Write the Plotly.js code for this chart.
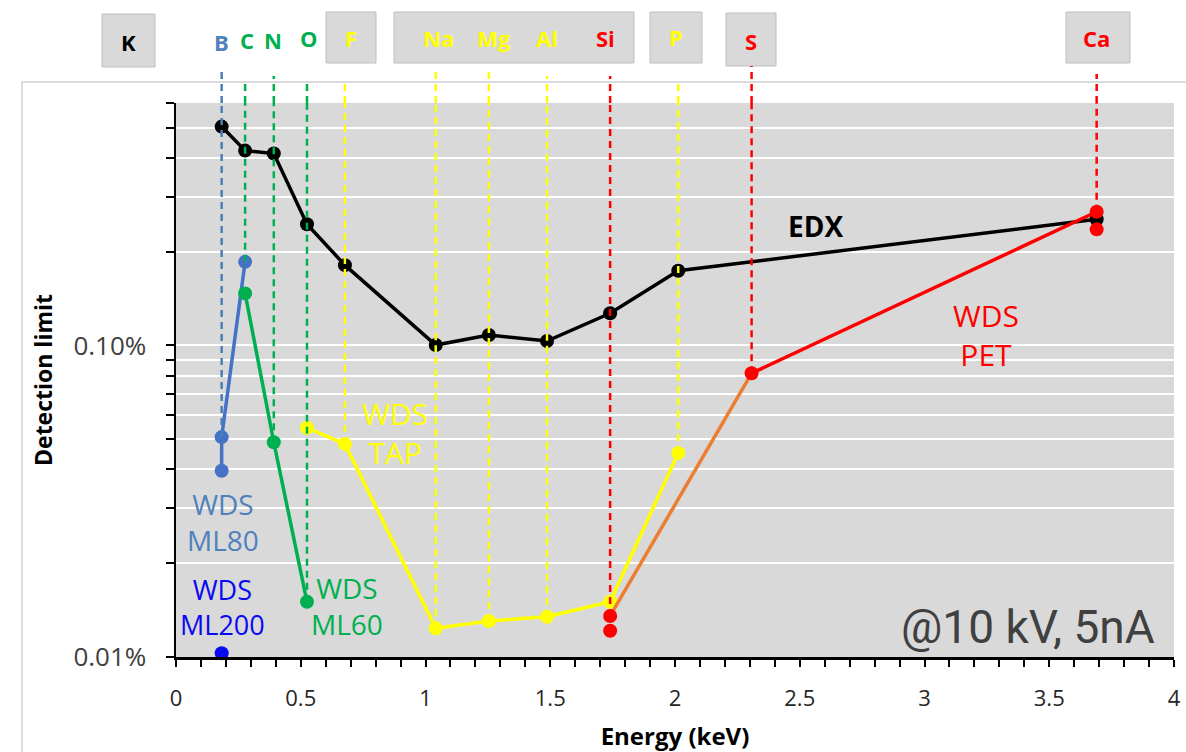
<!DOCTYPE html>
<html>
<head>
<meta charset="utf-8">
<script src="https://cdn.plot.ly/plotly-3.0.1.min.js"></script>
<style>
html,body{margin:0;padding:0;background:#ffffff;}
#chart{width:1186px;height:752px;}
</style>
</head>
<body>
<div id="chart"></div>
<script>
// ---------------- DATA ----------------
// EDX detection limits (%) vs X-ray line energy (keV)
const edxEnergy = [0.183, 0.277, 0.392, 0.525, 0.677, 1.041, 1.254, 1.487, 1.740, 2.013, 3.690];
const edxLimit  = [0.504, 0.422, 0.413, 0.245, 0.181, 0.1003, 0.108, 0.1033, 0.1268, 0.1737, 0.254];

// WDS ML80 crystal
const ml80Energy = [0.183, 0.183, 0.277];
const ml80Limit  = [0.0396, 0.0508, 0.1855];

// WDS ML200 crystal
const ml200Energy = [0.183];
const ml200Limit  = [0.01028];

// WDS ML60 crystal
const ml60Energy = [0.277, 0.392, 0.525];
const ml60Limit  = [0.1469, 0.0489, 0.01504];

// WDS TAP crystal
const tapEnergy = [0.525, 0.677, 1.041, 1.254, 1.487, 1.740, 2.013];
const tapLimit  = [0.0544, 0.0483, 0.01236, 0.01305, 0.01347, 0.01504, 0.0452];

// WDS PET crystal (Si low, Si, S, Ca, Ca low)
const petEnergy = [1.740, 1.740, 2.307, 3.690, 3.690];
const petLimit  = [0.01214, 0.01354, 0.0814, 0.2686, 0.2358];

// Element lines (labels on top, dashed guide lines)
const elemNames  = ['B', 'C', 'N', 'O', 'F', 'Na', 'Mg', 'Al', 'Si', 'P', 'S', 'Ca'];
const elemEnergy = [0.183, 0.277, 0.392, 0.525, 0.677, 1.041, 1.254, 1.487, 1.740, 2.013, 2.307, 3.690];
const elemLowest = [0.0508, 0.1855, 0.0489, 0.01504, 0.0483, 0.01236, 0.01305, 0.01347, 0.01354, 0.0452, 0.0814, 0.2686];
const elemColors = ['#4F81BD', '#00B050', '#00B050', '#00B050', '#FFFF00', '#FFFF00', '#FFFF00', '#FFFF00', '#FF0000', '#FFFF00', '#FF0000', '#FF0000'];

// Axis ticks
const xTickVals = [0, 0.5, 1, 1.5, 2, 2.5, 3, 3.5, 4];
const xTickText = ['0', '0.5', '1', '1.5', '2', '2.5', '3', '3.5', '4'];
const yTickVals = [0.01, 0.02, 0.03, 0.04, 0.05, 0.06, 0.07, 0.08, 0.09, 0.1, 0.2, 0.3, 0.4, 0.5, 0.6];
const yTickText = ['0.01%', '', '', '', '', '', '', '', '', '0.10%', '', '', '', '', ''];

// ---------------- LAYOUT GEOMETRY ----------------
const W = 1186, H = 752, L = 176, R = 12, T = 103, B = 95;
const PW = W - L - R, PH = H - T - B;
const fx = x => (x - L) / PW;
const fy = y => (H - B - y) / PH;
const yTop = 0.6;

const FONT = 'Open Sans, Noto Sans, sans-serif';

// ---------------- TRACES ----------------
function series(x, y, color, mode) {
  return {
    type: 'scatter', mode: mode, x: x, y: y,
    line: {color: color, width: 3.5},
    marker: {color: color, size: 14},
    hoverinfo: 'skip', showlegend: false, cliponaxis: false
  };
}
const traces = [
  series(edxEnergy, edxLimit, '#000000', 'lines+markers'),
  series(ml80Energy, ml80Limit, '#4472C4', 'lines+markers'),
  series(ml200Energy, ml200Limit, '#0A0AF0', 'markers'),
  series(ml60Energy, ml60Limit, '#00B050', 'lines+markers'),
  series(tapEnergy, tapLimit, '#FFFF00', 'lines+markers'),
  series(petEnergy.slice(1, 3), petLimit.slice(1, 3), '#ED7D31', 'lines'),
  series(petEnergy.slice(2, 4), petLimit.slice(2, 4), '#FF0000', 'lines'),
  series(petEnergy, petLimit, '#FF0000', 'markers')
];

// ---------------- SHAPES ----------------
const shapes = [];
// chart-area border (light gray)
shapes.push({type: 'rect', xref: 'paper', yref: 'paper', x0: fx(22), x1: fx(1230), y0: fy(82), y1: fy(800),
  line: {color: '#D0D0D0', width: 1.5}, fillcolor: 'rgba(0,0,0,0)', layer: 'below'});
// label boxes [x0, x1, y0, y1] in px
const boxes = [[102, 155, 14, 67], [326, 376, 12, 63], [394, 634, 12, 63], [650, 702, 12, 63], [726, 776, 13, 66], [1066, 1130, 12, 63]];
boxes.forEach(b => shapes.push({type: 'rect', xref: 'paper', yref: 'paper', x0: fx(b[0]), x1: fx(b[1]), y0: fy(b[3]), y1: fy(b[2]),
  line: {color: '#BFBFBF', width: 1}, fillcolor: '#D9D9D9', layer: 'above'}));
// dashed guide lines: top end in px
const dashTopPx = [69, 81, 76, 84, 84, 70, 68, 76, 76, 82, 66, 74];
elemEnergy.forEach((e, i) => {
  const ln = {color: elemColors[i] === '#4F81BD' ? '#4A7EBB' : elemColors[i], width: 2.5, dash: '7px,5px'};
  shapes.push({type: 'line', xref: 'x', yref: 'y', x0: e, x1: e, y0: elemLowest[i], y1: yTop, line: ln, layer: 'above'});
  shapes.push({type: 'line', xref: 'x', yref: 'paper', x0: e, x1: e, y0: 1, y1: fy(dashTopPx[i]), line: ln, layer: 'above'});
});

// ---------------- ANNOTATIONS ----------------
const annotations = [];
function ann(text, x, y, size, color, bold, family, xanchor) {
  annotations.push({xref: 'paper', yref: 'paper', x: fx(x), y: fy(y), text: text, showarrow: false,
    xanchor: xanchor || 'center', yanchor: 'middle',
    font: {family: family || FONT, size: size, color: color, weight: bold ? 700 : 400}});
}
// top element labels
ann('K', 128.6, 42, 22, '#000000', true);
const labelPx = [[221.4, 42], [247, 40], [273, 40], [308.6, 38], [350.7, 38], [438, 38], [493.6, 38], [547, 38], [605.4, 38], [675.9, 37], [750.8, 41], [1096.8, 38]];
elemNames.forEach((n, i) => ann(n, labelPx[i][0], labelPx[i][1], 22, elemColors[i], true));

// series labels
ann('EDX', 815, 226, 28, '#000000', true);
ann('WDS<br>PET', 986, 335, 30, '#FF0000', false);
ann('WDS<br>TAP', 395, 433, 30, '#FFFF00', false);
ann('WDS<br>ML80', 223, 522, 28, '#4F81BD', false);
ann('WDS<br>ML200', 222, 607, 27, '#0A0AF0', false);
ann('WDS<br>ML60', 347, 606, 28, '#00B050', false);
ann('@10 kV, 5nA', 1157, 627, 46, '#404040', false, 'Roboto, sans-serif', 'right');

// ---------------- LAYOUT ----------------
const layout = {
  width: W, height: H,
  margin: {l: L, r: R, t: T, b: B, pad: 0},
  paper_bgcolor: '#FFFFFF',
  plot_bgcolor: '#D9D9D9',
  showlegend: false,
  hovermode: false,
  xaxis: {
    type: 'linear', range: [0, 4], autorange: false,
    tickmode: 'array', tickvals: xTickVals, ticktext: xTickText,
    ticks: 'outside', ticklen: 7, tickwidth: 2, tickcolor: '#000000',
    minor: {dtick: 0.1, ticks: 'outside', ticklen: 7, tickwidth: 2, tickcolor: '#000000', showgrid: false},
    showline: true, linecolor: '#000000', linewidth: 2.5,
    showgrid: false, zeroline: false,
    tickfont: {family: FONT, size: 22, color: '#262626'},
    ticklabelstandoff: 13,
    title: {text: 'Energy (keV)', font: {family: FONT, size: 24, color: '#000000', weight: 700}, standoff: 18},
    automargin: false
  },
  yaxis: {
    type: 'log', range: [-2, Math.log10(yTop)], autorange: false,
    tickmode: 'array', tickvals: yTickVals, ticktext: yTickText,
    ticks: 'outside', ticklen: 8, tickwidth: 2, tickcolor: '#000000',
    showline: true, linecolor: '#000000', linewidth: 2.5,
    showgrid: true, gridcolor: '#FFFFFF', gridwidth: 2, zeroline: false,
    tickfont: {family: FONT, size: 26, color: '#404040'},
    ticklabelstandoff: 14,
    title: {text: 'Detection limit', font: {family: FONT, size: 23, color: '#000000', weight: 700}, standoff: 15},
    automargin: false
  },
  shapes: shapes,
  annotations: annotations
};

Plotly.newPlot('chart', traces, layout, {staticPlot: true, displayModeBar: false, responsive: false});
</script>
</body>
</html>
